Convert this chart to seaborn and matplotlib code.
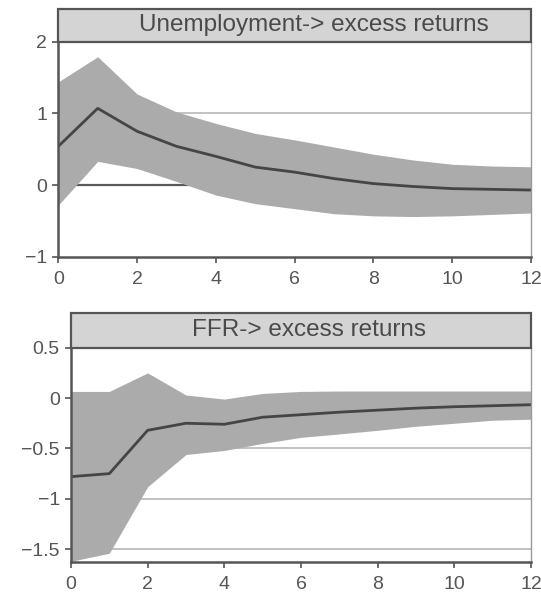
import numpy as np
import pandas as pd
import matplotlib
matplotlib.use("Agg")
import matplotlib.pyplot as plt
from matplotlib.patches import Rectangle
import seaborn as sns

# ---- data ----
horizon = [0, 1, 2, 3, 4, 5, 6, 7, 8, 9, 10, 11, 12]

unemp_mean = [0.54, 1.07, 0.75, 0.54, 0.40, 0.25, 0.18, 0.09, 0.02, -0.02, -0.05, -0.06, -0.07]
unemp_upper = [1.44, 1.79, 1.27, 1.02, 0.86, 0.72, 0.63, 0.53, 0.43, 0.35, 0.29, 0.265, 0.255]
unemp_lower = [-0.28, 0.33, 0.23, 0.05, -0.14, -0.26, -0.33, -0.40, -0.43, -0.44, -0.43, -0.41, -0.39]

ffr_mean = [-0.78, -0.75, -0.32, -0.25, -0.26, -0.19, -0.165, -0.14, -0.12, -0.10, -0.086, -0.076, -0.066]
ffr_upper = [0.066, 0.066, 0.25, 0.03, -0.01, 0.046, 0.066, 0.07, 0.07, 0.07, 0.07, 0.07, 0.07]
ffr_lower = [-1.62, -1.54, -0.88, -0.56, -0.52, -0.45, -0.39, -0.356, -0.32, -0.28, -0.25, -0.22, -0.21]

titles = ["Unemployment-> excess returns", "FFR-> excess returns"]
top_yticks = [-1, 0, 1, 2]
top_ytick_labels = ["\u22121", "0", "1", "2"]
bot_yticks = [-1.5, -1, -0.5, 0, 0.5]
bot_ytick_labels = ["\u22121.5", "\u22121", "\u22120.5", "0", "0.5"]
xticks = [0, 2, 4, 6, 8, 10, 12]

sns.set_style("ticks")
plt.rcParams["font.family"] = ["Liberation Sans", "DejaVu Sans"]

fig = plt.figure(figsize=(5.41, 6.05), dpi=100)
ax1 = fig.add_axes([0.1078, 0.5757, 0.8737, 0.3554])
ax2 = fig.add_axes([0.1312, 0.0706, 0.8503, 0.3547])

BAND = "#ababab"
LINE = "#454545"
TXT = "#555555"


def draw(ax, mean, upper, lower, ylim, yticks, ylabels, grid_levels, title, strip_h, title_x):
    df = pd.DataFrame({"h": horizon, "m": mean})
    for g in grid_levels:
        ax.axhline(g, color="#bdbdbd", lw=1.3, zorder=0)
    ax.fill_between(horizon, lower, upper, color=BAND, lw=0, zorder=1)
    sns.lineplot(data=df, x="h", y="m", ax=ax, color=LINE, lw=2.0, zorder=2)
    ax.set_xlim(0, 12)
    ax.set_ylim(*ylim)
    ax.set_xticks(xticks)
    ax.set_xticklabels([str(t) for t in xticks])
    ax.set_yticks(yticks)
    ax.set_yticklabels(ylabels)
    ax.set_xlabel("")
    ax.set_ylabel("")
    ax.tick_params(axis="both", direction="out", length=4, width=1.2,
                   bottom=True, left=True, top=False, right=False,
                   color="#555555", labelcolor=TXT, labelsize=14, pad=4)
    ax.tick_params(axis="x", pad=6)
    for s in ["left", "bottom"]:
        ax.spines[s].set_visible(True)
        ax.spines[s].set_color("#555555")
        ax.spines[s].set_linewidth(1.8)
    ax.spines["right"].set_visible(True)
    ax.spines["right"].set_color("#9a9a9a")
    ax.spines["right"].set_linewidth(1.0)
    ax.spines["top"].set_visible(False)
    rect = Rectangle((0, 1), 1, strip_h, transform=ax.transAxes,
                     facecolor="#d4d4d4", edgecolor="#555555", lw=1.6,
                     clip_on=False, zorder=5)
    ax.add_patch(rect)
    ax.text(title_x, 1 + strip_h / 2, title, transform=ax.transAxes,
            ha="center", va="center", fontsize=17.5, color="#4a4a4a", zorder=6)


draw(ax1, unemp_mean, unemp_upper, unemp_lower, (-1, 2), top_yticks, top_ytick_labels,
     [1], titles[0], 0.1507, 0.54)
# darker zero reference line in the upper panel
ax1.axhline(0, color="#5a5a5a", lw=1.6, zorder=0)

draw(ax2, ffr_mean, ffr_upper, ffr_lower, (-1.63, 0.5), bot_yticks, bot_ytick_labels,
     [-1.5, -1, -0.5], titles[1], 0.163, 0.517)

fig.savefig("out.png", dpi=100)
